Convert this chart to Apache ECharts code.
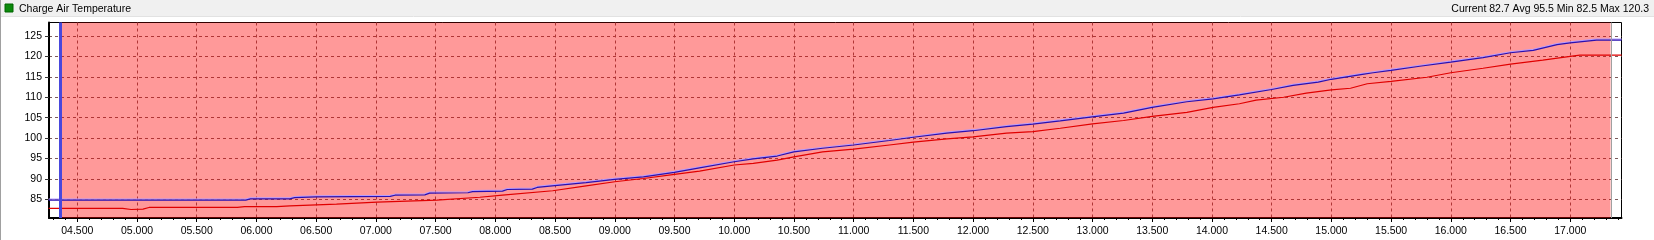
<!DOCTYPE html>
<html>
<head>
<meta charset="utf-8">
<script src="https://cdn.jsdelivr.net/npm/echarts@6/dist/echarts.min.js"></script>
<style>
html,body{margin:0;padding:0;background:#fff;}
#chart{width:1654px;height:240px;}
</style>
</head>
<body>
<div id="chart"></div>
<script>
// ---- data ----
const chartTitle = 'Charge Air Temperature';
const statNames = ['Current', 'Avg', 'Min', 'Max'];
const statValues = ['82.7', '95.5', '82.5', '120.3'];

const blueTime = [4.26,5.91,5.95,6.28,6.32,6.50,7.12,7.16,7.41,7.45,7.77,7.81,8.06,8.10,8.31,8.35,8.52,8.76,9.00,9.24,9.50,9.71,10.00,10.16,10.36,10.50,10.74,11.00,11.30,11.50,11.78,12.00,12.28,12.50,12.73,13.00,13.26,13.50,13.79,14.01,14.23,14.50,14.68,14.89,15.00,15.26,15.35,15.50,15.74,16.00,16.27,16.50,16.69,16.89,17.00,17.22,17.43];
const blueTemp = [84.8,84.8,85.1,85.1,85.4,85.6,85.7,86.0,86.1,86.5,86.6,86.9,87.0,87.4,87.5,87.9,88.4,89.1,89.9,90.5,91.6,92.7,94.2,94.9,95.6,96.6,97.5,98.3,99.4,100.2,101.2,101.8,102.8,103.4,104.2,105.2,106.1,107.5,108.9,109.6,110.6,111.9,112.9,113.7,114.4,115.6,116.0,116.6,117.6,118.6,119.7,120.9,121.5,122.9,123.3,124.0,124.0];

const redTime = [4.26,4.88,4.95,5.05,5.10,5.84,5.90,6.17,6.28,6.67,7.01,7.51,7.87,8.06,8.48,8.76,9.00,9.24,9.50,9.71,10.00,10.16,10.36,10.50,10.74,11.00,11.30,11.50,11.78,12.00,12.28,12.50,12.73,13.00,13.26,13.50,13.79,14.01,14.23,14.37,14.60,14.79,15.00,15.16,15.30,15.50,15.80,16.00,16.27,16.50,16.77,17.00,17.08,17.43];
const redTemp = [82.8,82.8,82.5,82.6,83.0,83.0,83.2,83.2,83.4,83.8,84.3,84.8,85.5,86.0,87.1,88.3,89.3,90.1,91.1,91.9,93.4,93.8,94.6,95.4,96.6,97.3,98.3,99.0,99.8,100.3,101.2,101.6,102.4,103.5,104.3,105.3,106.3,107.5,108.4,109.3,110.0,111.0,111.8,112.2,113.3,113.9,114.9,116.0,117.1,118.1,119.1,120.0,120.3,120.3];

const xTickValues = [4.5,5,5.5,6,6.5,7,7.5,8,8.5,9,9.5,10,10.5,11,11.5,12,12.5,13,13.5,14,14.5,15,15.5,16,16.5,17];
const yTickValues = [85,90,95,100,105,110,115,120,125];
const cursorTime = 4.364;
const bandStart = 4.364;
const bandEnd = 17.337;

// minor ticks every 0.1 between the labelled ticks
const xMinorTicks = [];
for (let i = 43; i <= 174; i++) { if (i % 5 !== 0) xMinorTicks.push(i / 10); }

const zip = (a, b) => a.map((v, i) => [v, b[i]]);
const fmtX = v => { const s = v.toFixed(3); return v < 10 ? '0' + s : s; };

const FONT = 'Liberation Sans';
const X_MIN = 4.263, X_MAX = 17.429;
const GRID_COLOR = '#7a5a5a';

const chart = echarts.init(document.getElementById('chart'), null, {renderer: 'canvas'});
chart.setOption({
  animation: false,
  backgroundColor: '#ffffff',
  graphic: [
    {type: 'rect', shape: {x: 0, y: 0, width: 1654, height: 16}, style: {fill: '#f0f0f0'}, z: 0},
    {type: 'line', shape: {x1: 0, y1: 16.5, x2: 1654, y2: 16.5}, style: {stroke: '#e2e2e2', lineWidth: 1}, z: 0},
    {type: 'line', shape: {x1: 0.5, y1: 0, x2: 0.5, y2: 240}, style: {stroke: '#a0a0a0', lineWidth: 1}, z: 0},
    {type: 'rect', shape: {x: 5, y: 4, width: 8, height: 8}, style: {fill: '#0b8a0b', stroke: '#006400', lineWidth: 1}, z: 1}
  ],
  title: [
    {text: chartTitle, left: 19, top: 3, padding: 0,
     textStyle: {fontFamily: FONT, fontSize: 10.5, fontWeight: 'normal', color: '#000', lineHeight: 12}},
    {text: statNames.map((n, i) => n + ' ' + statValues[i]).join(' '), right: 5, top: 3, padding: 0,
     textStyle: {fontFamily: FONT, fontSize: 10.5, fontWeight: 'normal', color: '#000', lineHeight: 12}}
  ],
  grid: {left: 49, right: 32.5, top: 22.5, bottom: 22, show: true, backgroundColor: '#fff', borderColor: '#000', borderWidth: 1},
  xAxis: [
    {
      type: 'value', min: X_MIN, max: X_MAX, position: 'bottom',
      axisLine: {show: true, onZero: false, lineStyle: {color: '#000', width: 2}},
      axisTick: {show: true, length: 4, inside: false, customValues: xTickValues, lineStyle: {color: '#000'}},
      axisLabel: {show: true, customValues: xTickValues, formatter: fmtX, margin: 8,
                  fontFamily: FONT, fontSize: 10.5, color: '#000', showMinLabel: true, showMaxLabel: true},
      splitLine: {show: true, lineStyle: {color: GRID_COLOR, width: 1, type: [3, 3]}}
    },
    {
      type: 'value', min: X_MIN, max: X_MAX, position: 'bottom',
      axisLine: {show: false},
      axisTick: {show: true, length: 2, customValues: xMinorTicks, lineStyle: {color: '#000'}},
      axisLabel: {show: false},
      splitLine: {show: false}
    }
  ],
  yAxis: {
    type: 'value', min: 80.42, max: 128.31,
    axisLine: {show: true, onZero: false, lineStyle: {color: '#000', width: 2}},
    axisTick: {show: true, length: 4, customValues: yTickValues, lineStyle: {color: '#333'}},
    axisLabel: {show: true, customValues: yTickValues, margin: 7, fontFamily: FONT, fontSize: 10.5, color: '#000'},
    splitLine: {show: true, lineStyle: {color: GRID_COLOR, width: 1, type: [3, 3]}}
  },
  series: [
    {
      type: 'line', name: 'band', data: [], z: 1, silent: true,
      markArea: {silent: true, itemStyle: {color: 'rgba(255,0,0,0.4)'},
                 data: [[{xAxis: bandStart}, {xAxis: bandEnd}]]},
      markLine: {silent: true, symbol: 'none', label: {show: false},
                 data: [
                   {xAxis: bandEnd, lineStyle: {color: '#a0a0a0', width: 1, type: 'solid'}}
                 ]}
    },
    {
      type: 'line', name: 'reference', data: zip(blueTime, blueTemp), z: 3,
      showSymbol: false, symbol: 'none', smooth: false,
      lineStyle: {color: '#2a10b0', width: 1.2, shadowColor: '#b59cff', shadowBlur: 0, shadowOffsetY: -1}
    },
    {
      type: 'line', name: chartTitle, data: zip(redTime, redTemp), z: 4,
      showSymbol: false, symbol: 'none', smooth: false,
      lineStyle: {color: '#e00000', width: 1.2},
      markLine: {silent: true, symbol: 'none', label: {show: false},
                 data: [{xAxis: cursorTime, lineStyle: {color: '#4848dc', width: 3, type: 'solid'}}]}
    }
  ]
});
</script>
</body>
</html>
